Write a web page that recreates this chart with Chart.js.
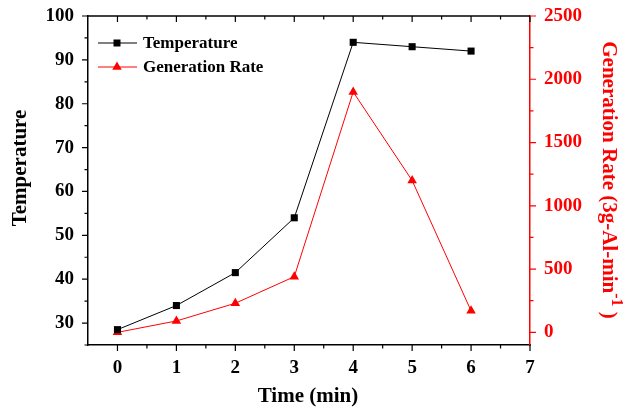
<!DOCTYPE html>
<html>
<head>
<meta charset="utf-8">
<script src="https://cdn.jsdelivr.net/npm/chart.js@4.4.1/dist/chart.umd.min.js"></script>
<style>
    html, body { margin: 0; padding: 0; background: #fff; }
    #wrap { width: 625px; height: 407px; }
</style>
</head>
<body>
<div id="wrap"><canvas id="chart" width="625" height="407"></canvas></div>
<script>
// Data
const times = [0, 1, 2, 3, 4, 5, 6];
const temperature = [28.5, 34, 41.5, 54, 94, 93, 92];
const genRate = [0, 90, 230, 440, 1900, 1200, 170];

// Tick values
const xTicks = [0, 1, 2, 3, 4, 5, 6, 7];
const xMinor = [0.5, 1.5, 2.5, 3.5, 4.5, 5.5, 6.5];
const tempTicks = [30, 40, 50, 60, 70, 80, 90, 100];
const tempMinor = [25, 35, 45, 55, 65, 75, 85, 95];
const rateTicks = [0, 500, 1000, 1500, 2000, 2500];
const rateMinor = [250, 750, 1250, 1750, 2250];

const RED = '#ff0000';
const FONT = '"Liberation Serif", "Times New Roman", serif';
const tickFont = { family: FONT, weight: 'bold', size: 19 };

function setTicks(values) {
    return function(scale) {
        scale.ticks = values.map(v => ({ value: v }));
    };
}

// fixed axis sizes, no extra label overflow padding
function fixSize(w, h) {
    return function(s) {
        if (w) s.width = w;
        if (h) s.height = h;
        s.paddingTop = 0; s.paddingBottom = 0;
        s.paddingLeft = 0; s.paddingRight = 0;
    };
}

// Ticks, top frame line, axis titles and legend
const decorations = {
    id: 'decorations',
    afterDraw(chart) {
        const ctx = chart.ctx;
        const area = chart.chartArea;
        const x = chart.scales.x, y = chart.scales.y, y1 = chart.scales.y1;
        ctx.save();
        ctx.lineWidth = 1.5;

        // top frame
        ctx.strokeStyle = '#000';
        ctx.beginPath();
        ctx.moveTo(area.left, area.top);
        ctx.lineTo(area.right, area.top);
        ctx.stroke();

        ctx.lineWidth = 1.2;
        // x ticks: bottom outward, top inward
        ctx.beginPath();
        xTicks.concat(xMinor).forEach(v => {
            const px = x.getPixelForValue(v);
            const len = xTicks.includes(v) ? 6 : 3.5;
            ctx.moveTo(px, area.bottom); ctx.lineTo(px, area.bottom + len);
            ctx.moveTo(px, area.top); ctx.lineTo(px, area.top + len);
        });
        // left ticks
        tempTicks.concat(tempMinor).forEach(v => {
            const py = y.getPixelForValue(v);
            const len = tempTicks.includes(v) ? 6 : 3.5;
            ctx.moveTo(area.left, py); ctx.lineTo(area.left - len, py);
        });
        ctx.stroke();

        // right ticks
        ctx.strokeStyle = RED;
        ctx.beginPath();
        rateTicks.concat(rateMinor).forEach(v => {
            const py = y1.getPixelForValue(v);
            const len = rateTicks.includes(v) ? 6 : 3.5;
            ctx.moveTo(area.right, py); ctx.lineTo(area.right + len, py);
        });
        ctx.stroke();

        // axis titles
        ctx.fillStyle = '#000';
        ctx.font = 'bold 21px ' + FONT;
        ctx.textAlign = 'center';
        ctx.textBaseline = 'alphabetic';
        ctx.fillText('Time (min)', 308, 402);

        ctx.save();
        ctx.translate(26, 168);
        ctx.rotate(-Math.PI / 2);
        ctx.fillText('Temperature', 0, 0);
        ctx.restore();

        // right title with superscript
        ctx.save();
        ctx.fillStyle = RED;
        ctx.translate(603, 180);
        ctx.rotate(Math.PI / 2);
        ctx.textAlign = 'left';
        const main = 'Generation Rate (3g-Al-min';
        const sup = '-1';
        const tail = ' )';
        ctx.font = 'bold 21px ' + FONT;
        const w1 = ctx.measureText(main).width;
        const w3 = ctx.measureText(tail).width;
        ctx.font = 'bold 16px ' + FONT;
        const w2 = ctx.measureText(sup).width;
        let tx = -(w1 + w2 + w3) / 2;
        ctx.font = 'bold 21px ' + FONT;
        ctx.fillText(main, tx, 0);
        tx += w1;
        ctx.font = 'bold 16px ' + FONT;
        ctx.fillText(sup, tx, -9);
        tx += w2;
        ctx.font = 'bold 21px ' + FONT;
        ctx.fillText(tail, tx, 0);
        ctx.restore();

        // legend
        const rows = [
            { label: 'Temperature', color: '#000', style: 'rect', y: 43 },
            { label: 'Generation Rate', color: RED, style: 'triangle', y: 67 }
        ];
        rows.forEach(r => {
            ctx.strokeStyle = r.color;
            ctx.fillStyle = r.color;
            ctx.lineWidth = 1;
            ctx.beginPath();
            ctx.moveTo(98, r.y); ctx.lineTo(137, r.y);
            ctx.stroke();
            ctx.beginPath();
            if (r.style === 'rect') {
                ctx.rect(117 - 3.5, r.y - 3.5, 7, 7);
            } else {
                const rr = 5.5;
                ctx.moveTo(117, r.y - rr);
                ctx.lineTo(117 + rr * 0.866, r.y + rr / 2);
                ctx.lineTo(117 - rr * 0.866, r.y + rr / 2);
                ctx.closePath();
            }
            ctx.fill();
            ctx.fillStyle = '#000';
            ctx.font = 'bold 17px ' + FONT;
            ctx.textAlign = 'left';
            ctx.textBaseline = 'middle';
            ctx.fillText(r.label, 143, r.y + 1);
        });

        ctx.restore();
    }
};

new Chart(document.getElementById('chart'), {
    type: 'line',
    data: {
        datasets: [{
            label: 'Temperature',
            data: times.map((t, i) => ({ x: t, y: temperature[i] })),
            yAxisID: 'y',
            borderColor: '#000',
            backgroundColor: '#000',
            borderWidth: 1,
            pointStyle: 'rect',
            pointRadius: 5,
            pointBorderWidth: 0,
            tension: 0
        }, {
            label: 'Generation Rate',
            data: times.map((t, i) => ({ x: t, y: genRate[i] })),
            yAxisID: 'y1',
            borderColor: RED,
            backgroundColor: RED,
            borderWidth: 1,
            pointStyle: 'triangle',
            pointRadius: 5.5,
            pointBorderWidth: 0,
            tension: 0
        }]
    },
    options: {
        responsive: false,
        animation: false,
        layout: { padding: { top: 16, left: 0, right: 0, bottom: 0 } },
        plugins: {
            legend: { display: false },
            tooltip: { enabled: false }
        },
        scales: {
            x: {
                type: 'linear',
                min: -0.5,
                max: 7,
                afterBuildTicks: setTicks(xTicks),
                afterFit: fixSize(0, 62),
                grid: { display: false, drawTicks: false },
                border: { color: '#000', width: 1.5 },
                ticks: { color: '#000', font: tickFont, padding: 12, maxRotation: 0 }
            },
            y: {
                position: 'left',
                min: 25,
                max: 100,
                afterBuildTicks: setTicks(tempTicks),
                afterFit: fixSize(88, 0),
                grid: { display: false, drawTicks: false },
                border: { color: '#000', width: 1.5 },
                ticks: { color: '#000', font: tickFont, padding: 14, callback: v => String(v) }
            },
            y1: {
                position: 'right',
                min: -100,
                max: 2500,
                afterBuildTicks: setTicks(rateTicks),
                afterFit: fixSize(95, 0),
                grid: { display: false, drawTicks: false },
                border: { color: RED, width: 1.5 },
                ticks: { color: RED, font: tickFont, padding: 14, callback: v => String(v) }
            }
        }
    },
    plugins: [decorations]
});
</script>
</body>
</html>
